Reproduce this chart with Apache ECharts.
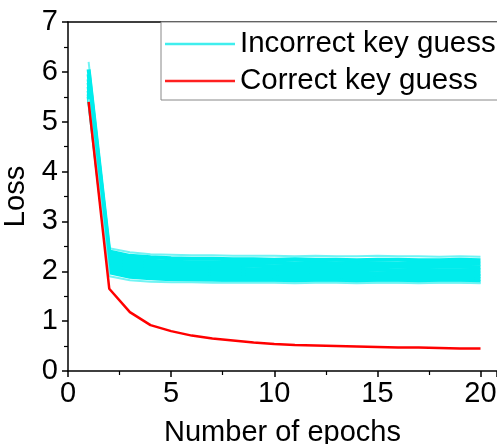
<!DOCTYPE html>
<html>
<head>
<meta charset="utf-8">
<script src="https://cdn.jsdelivr.net/npm/echarts@6/dist/echarts.min.js"></script>
<style>html,body{margin:0;padding:0;background:#fff}#c{width:497px;height:444px}</style>
</head>
<body>
<div id="c"></div>
<script>
var epochs = [1,2,3,4,5,6,7,8,9,10,11,12,13,14,15,16,17,18,19,20];
var correctKey = [5.40,1.65,1.18,0.92,0.80,0.71,0.65,0.61,0.57,0.54,0.52,0.51,0.50,0.49,0.48,0.47,0.47,0.46,0.45,0.45];
var incorrect1  = [6.20,2.46,2.38,2.34,2.33,2.32,2.32,2.31,2.31,2.31,2.30,2.31,2.30,2.30,2.31,2.30,2.30,2.29,2.30,2.29];
var incorrect2  = [6.05,2.40,2.31,2.28,2.26,2.25,2.25,2.24,2.24,2.23,2.24,2.23,2.23,2.22,2.23,2.23,2.22,2.22,2.23,2.22];
var incorrect3  = [5.95,2.34,2.25,2.21,2.19,2.18,2.18,2.17,2.17,2.17,2.16,2.17,2.16,2.16,2.16,2.15,2.16,2.16,2.15,2.15];
var incorrect4  = [5.85,2.28,2.19,2.15,2.13,2.12,2.12,2.11,2.11,2.10,2.10,2.10,2.10,2.09,2.10,2.09,2.09,2.09,2.09,2.08];
var incorrect5  = [5.78,2.23,2.13,2.09,2.07,2.06,2.05,2.05,2.04,2.04,2.04,2.03,2.03,2.03,2.03,2.02,2.03,2.02,2.02,2.02];
var incorrect6  = [5.70,2.17,2.07,2.03,2.01,2.00,1.99,1.99,1.98,1.98,1.97,1.97,1.97,1.97,1.96,1.96,1.96,1.96,1.96,1.95];
var incorrect7  = [5.62,2.11,2.01,1.97,1.95,1.94,1.93,1.93,1.92,1.92,1.92,1.91,1.91,1.91,1.91,1.90,1.90,1.90,1.90,1.90];
var incorrect8  = [5.55,2.05,1.95,1.92,1.90,1.89,1.88,1.88,1.87,1.87,1.86,1.86,1.86,1.86,1.85,1.85,1.85,1.85,1.85,1.84];
var incorrect9  = [5.50,1.98,1.89,1.86,1.84,1.83,1.83,1.82,1.82,1.81,1.81,1.81,1.81,1.80,1.80,1.80,1.80,1.80,1.80,1.79];
var incorrect10 = [5.45,1.90,1.82,1.79,1.78,1.78,1.77,1.77,1.77,1.77,1.76,1.77,1.77,1.76,1.77,1.77,1.76,1.77,1.77,1.76];
var incorrectKeys = [incorrect1,incorrect2,incorrect3,incorrect4,incorrect5,incorrect6,incorrect7,incorrect8,incorrect9,incorrect10];
var xTicks = [0,5,10,15,20];
var yTicks = [0,1,2,3,4,5,6,7];

function pairs(arr){ return epochs.map(function(e,i){ return [e, arr[i]]; }); }

var FONT = 'Liberation Sans, Arial, sans-serif';
var series = [];
incorrectKeys.forEach(function(arr, k){
  var edge = (k === 0 || k === incorrectKeys.length - 1);
  series.push({
    name: 'Incorrect key guess', type: 'line', data: pairs(arr),
    symbol: 'none', silent: true,
    color: '#00ecec',
    lineStyle: { color: edge ? '#70f4f4' : '#00ecec', width: edge ? 2 : 4, join: 'bevel' },
    animation: false
  });
});
series.push({
  name: 'Correct key guess', type: 'line', data: pairs(correctKey),
  symbol: 'none', color: '#ff0000',
  lineStyle: { color: '#ff0000', width: 2.5 }, animation: false, z: 5
});

var chart = echarts.init(document.getElementById('c'), null, {renderer: 'canvas'});
chart.setOption({
  animation: false,
  backgroundColor: '#ffffff',
  grid: { left: 68, top: 22, right: 0, bottom: 73, containLabel: false, outerBoundsMode: 'none' },
  legend: {
    data: [
      { name: 'Incorrect key guess', icon: 'rect', itemStyle: { color: '#40eeee' } },
      { name: 'Correct key guess', icon: 'rect', itemStyle: { color: '#ff2020' } }
    ],
    orient: 'vertical', left: 161, top: 22,
    padding: [7, 40, 4, 4],
    itemWidth: 70, itemHeight: 2.5, itemGap: 7,
    borderColor: '#888', borderWidth: 1, backgroundColor: '#fff',
    textStyle: { fontFamily: FONT, fontSize: 29.5, color: '#000', lineHeight: 30 },
    selectedMode: false
  },
  xAxis: [{
    type: 'value', min: 0, max: 20.8, interval: 5, position: 'bottom',
    name: 'Number of epochs', nameLocation: 'middle', nameGap: 47,
    nameTextStyle: { fontFamily: FONT, fontSize: 29, color: '#000' },
    axisLine: { onZero: false, lineStyle: { color: '#000', width: 1.5 } },
    axisTick: { show: true, inside: false, length: 6, lineStyle: { color: '#000', width: 1.5 } },
    minorTick: { show: true, splitNumber: 2, length: 4, lineStyle: { color: '#000', width: 1.2 } },
    axisLabel: { fontFamily: FONT, fontSize: 29, color: '#000', margin: 8, showMaxLabel: false,
      formatter: function(v){ return xTicks.indexOf(v) >= 0 ? String(v) : ''; } },
    splitLine: { show: false }
  }, {
    type: 'value', min: 0, max: 20.8, position: 'top',
    axisLine: { show: true, onZero: false, lineStyle: { color: '#000', width: 1.5 } },
    axisTick: { show: false }, axisLabel: { show: false }, splitLine: { show: false }
  }],
  yAxis: {
    type: 'value', min: 0, max: 7, interval: 1,
    name: 'Loss', nameLocation: 'middle', nameGap: 33, nameRotate: 90,
    nameTextStyle: { fontFamily: FONT, fontSize: 29, color: '#000' },
    axisLine: { show: true, lineStyle: { color: '#000', width: 1.5 } },
    axisTick: { show: true, inside: false, length: 6, lineStyle: { color: '#000', width: 1.5 } },
    minorTick: { show: true, splitNumber: 2, length: 4, lineStyle: { color: '#000', width: 1.2 } },
    axisLabel: { fontFamily: FONT, fontSize: 29, color: '#000', margin: 10,
      formatter: function(v){ return yTicks.indexOf(v) >= 0 ? String(v) : ''; } },
    splitLine: { show: false }
  },
  series: series
});
</script>
</body>
</html>
